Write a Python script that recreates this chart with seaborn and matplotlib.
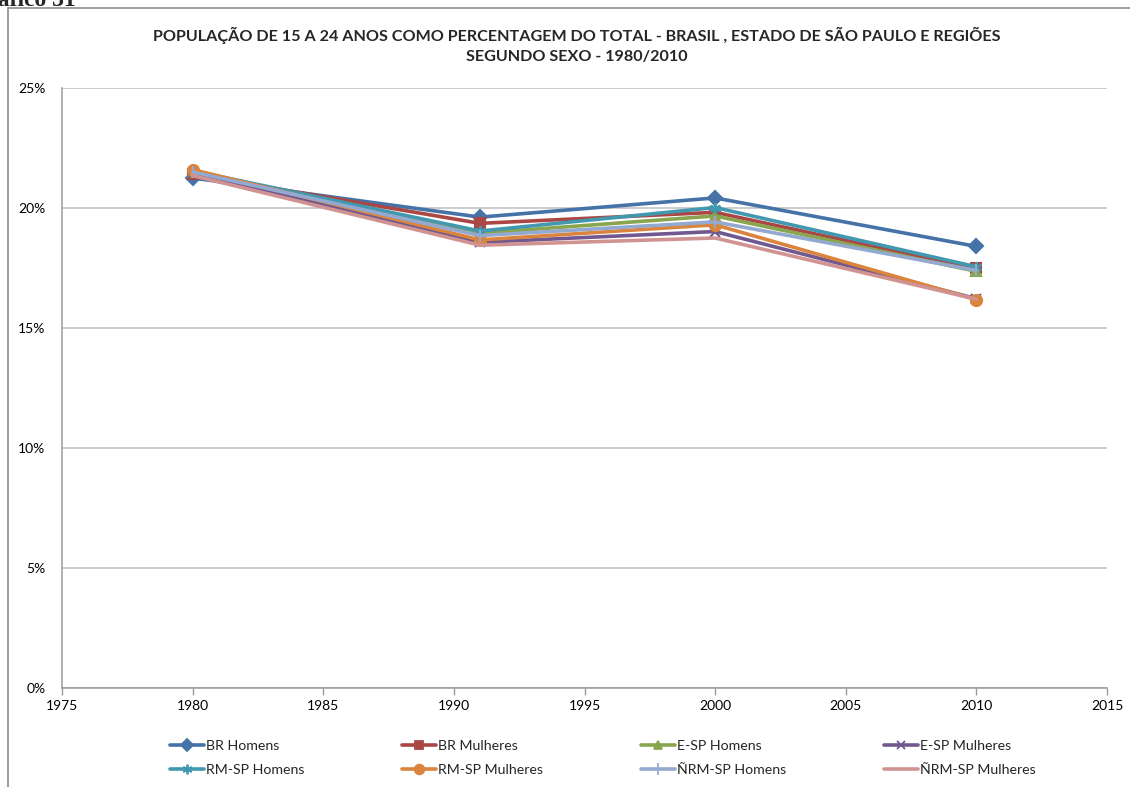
import matplotlib
matplotlib.use("Agg")
import matplotlib.pyplot as plt
from matplotlib.lines import Line2D
from matplotlib.ticker import FuncFormatter, MultipleLocator
import seaborn as sns
import pandas as pd

# Census years
anos = [1980, 1991, 2000, 2010]

# Share of the population aged 15-24 (%)
br_homens = [21.25, 19.62, 20.42, 18.40]
br_mulheres = [21.40, 19.36, 19.82, 17.48]
esp_homens = [21.50, 18.95, 19.67, 17.36]
esp_mulheres = [21.45, 18.57, 19.02, 16.22]
rmsp_homens = [21.55, 19.04, 20.02, 17.55]
rmsp_mulheres = [21.60, 18.67, 19.30, 16.18]
nrmsp_homens = [21.50, 18.85, 19.42, 17.40]
nrmsp_mulheres = [21.35, 18.45, 18.75, 16.20]

series = {
    "BR Homens": br_homens,
    "BR Mulheres": br_mulheres,
    "E-SP Homens": esp_homens,
    "E-SP Mulheres": esp_mulheres,
    "RM-SP Homens": rmsp_homens,
    "RM-SP Mulheres": rmsp_mulheres,
    "ÑRM-SP Homens": nrmsp_homens,
    "ÑRM-SP Mulheres": nrmsp_mulheres,
}

titulo = ("POPULAÇÃO DE 15 A 24 ANOS COMO PERCENTAGEM DO TOTAL - BRASIL , ESTADO DE SÃO PAULO E REGIÕES\n"
          "SEGUNDO SEXO - 1980/2010")

cores = ["#4572A7", "#AA4643", "#89A54E", "#71588F",
         "#4198AF", "#DB843D", "#93A9CF", "#D19392"]
marcadores = ["D", "s", "^", "x", (6, 2, 0), "o", "|", ""]
tamanhos = [7, 7, 7, 7, 8, 8, 9, 1]

rows = []
for nome, vals in series.items():
    for a, v in zip(anos, vals):
        rows.append({"ano": a, "valor": v, "serie": nome})
df = pd.DataFrame(rows)

sns.set_theme(style="white")
plt.rcParams["font.family"] = ["Lato", "DejaVu Sans"]

W, H = 1130, 787
fig = plt.figure(figsize=(W / 100, H / 100), dpi=100)
ax = fig.add_axes([62 / W, 1 - 688 / H, (1107 - 62) / W, (688 - 88) / H])

nomes = list(series.keys())
palette = dict(zip(nomes, cores))
sns.lineplot(data=df, x="ano", y="valor", hue="serie", hue_order=nomes,
             palette=palette, ax=ax, linewidth=2.6, legend=False, sort=False)

# markers per series, drawn over the lines
handles = []
for i, nome in enumerate(nomes):
    line = ax.lines[i]
    m = marcadores[i]
    line.set_marker(m if m else "None")
    line.set_markersize(tamanhos[i])
    line.set_markeredgecolor(cores[i])
    line.set_markerfacecolor(cores[i])
    line.set_markeredgewidth(1.5)
    handles.append(Line2D([], [], color=cores[i], linewidth=2.6,
                          marker=m if m else "None", markersize=tamanhos[i] - 1,
                          markerfacecolor=cores[i], markeredgecolor=cores[i],
                          markeredgewidth=1.3))

ax.set_xlim(1975, 2015)
ax.set_ylim(0, 25)
ax.xaxis.set_major_locator(MultipleLocator(5))
ax.yaxis.set_major_locator(MultipleLocator(5))
ax.yaxis.set_major_formatter(FuncFormatter(lambda v, p: f"{v:.0f}%"))
ax.set_xlabel("")
ax.set_ylabel("")
ax.grid(axis="y", color="#BEBEBE", linewidth=1.1)
ax.grid(axis="x", visible=False)
ax.set_axisbelow(True)
for s in ["top", "right"]:
    ax.spines[s].set_visible(False)
for s in ["left", "bottom"]:
    ax.spines[s].set_color("#9A9A9A")
    ax.spines[s].set_linewidth(1.1)
ax.tick_params(axis="x", labelsize=10, labelcolor="#000000", length=5,
               width=1, direction="out", pad=4, color="#9A9A9A", bottom=True)
ax.tick_params(axis="y", labelsize=10, labelcolor="#000000", length=0, pad=12)

fig.text(577 / W, 1 - 45 / H, titulo, ha="center", va="center",
         fontsize=11.6, fontweight="bold", linespacing=1.55)

# legend filled row by row (4 columns, 2 rows)
ordem = [0, 4, 1, 5, 2, 6, 3, 7]
fig.legend([handles[i] for i in ordem], [nomes[i] for i in ordem],
           loc="center left", ncol=4,
           bbox_to_anchor=(170 / W, 1 - 758 / H), frameon=False,
           borderpad=0, borderaxespad=0,
           fontsize=10.2, handlelength=2.4, handletextpad=0.15,
           columnspacing=6.9, labelspacing=0.9)

# chart frame and clipped caption above it
fig.add_artist(Line2D([8 / W, 8 / W], [0, 1 - 8 / H], transform=fig.transFigure,
                      color="#8C8C8C", linewidth=1.2))
fig.add_artist(Line2D([8 / W, 1], [1 - 8 / H, 1 - 8 / H], transform=fig.transFigure,
                      color="#8C8C8C", linewidth=1.2))
fig.text(76 / W, 1 - 6 / H, "Gráfico 31", ha="right", va="baseline",
         fontsize=17, fontweight="bold", family=["Liberation Serif", "DejaVu Serif"])

fig.savefig("out.png", dpi=100)
